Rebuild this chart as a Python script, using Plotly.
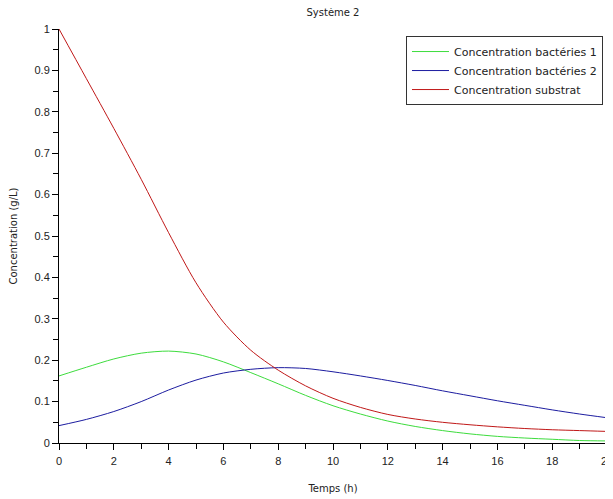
import plotly.graph_objects as go

temps = list(range(0, 21))
bacteries1 = [0.162, 0.183, 0.203, 0.217, 0.222, 0.215, 0.196, 0.170, 0.143, 0.115,
              0.090, 0.070, 0.053, 0.040, 0.030, 0.022, 0.016, 0.012, 0.009, 0.006, 0.005]
bacteries2 = [0.042, 0.057, 0.076, 0.100, 0.128, 0.152, 0.169, 0.178, 0.182, 0.180,
              0.172, 0.162, 0.151, 0.139, 0.126, 0.114, 0.102, 0.091, 0.080, 0.070, 0.061]
substrat = [1.000, 0.880, 0.760, 0.637, 0.508, 0.387, 0.292, 0.224, 0.176, 0.138,
            0.108, 0.086, 0.069, 0.058, 0.050, 0.044, 0.039, 0.035, 0.032, 0.030, 0.028]

names = ["Concentration bactéries 1", "Concentration bactéries 2", "Concentration substrat"]
colors = ["#3ddc3d", "#1c1ca0", "#c01818"]

fig = go.Figure()
for ys, nm, c in zip([bacteries1, bacteries2, substrat], names, colors):
    fig.add_trace(go.Scatter(x=temps, y=ys, mode="lines", name=nm,
                             line=dict(color=c, width=1, shape="spline", smoothing=0.8)))

# The page body has an 8px margin, so the figure is sized/offset to compensate.
W, H = 605, 491
font = "Liberation Sans, Arial, sans-serif"
fig.update_layout(
    width=W, height=H,
    margin=dict(l=51, r=6, t=21, b=56),
    paper_bgcolor="white", plot_bgcolor="white",
    font=dict(family=font, size=11, color="#222"),
    title=dict(text="Système 2", x=(51 + 548 / 2) / W, xanchor="center",
               y=1 - 4 / H, yanchor="middle", automargin=False,
               font=dict(family="DejaVu Sans, sans-serif", size=10, color="#222")),
    showlegend=True,
    legend=dict(x=0.9927, xanchor="right", y=0.983, yanchor="top",
                bgcolor="white", bordercolor="#333", borderwidth=1,
                font=dict(family="DejaVu Sans, sans-serif", size=11, color="#222"),
                itemwidth=37),
    xaxis=dict(range=[0, 20], dtick=2, tick0=0, showgrid=False, zeroline=False,
               showline=True, linecolor="black", linewidth=1, automargin=False,
               ticks="outside", ticklen=6, tickcolor="black", ticklabeloverflow="allow",
               tickfont=dict(size=11), ticklabelstandoff=2,
               minor=dict(dtick=1, ticks="outside", ticklen=5, tickcolor="black", showgrid=False),
               title=dict(text="Temps (h)", standoff=18,
                          font=dict(family="DejaVu Sans, sans-serif", size=10))),
    yaxis=dict(range=[0, 1], dtick=0.1, tick0=0, showgrid=False, zeroline=False,
               showline=True, linecolor="black", linewidth=1, automargin=False,
               ticks="outside", ticklen=6, tickcolor="black", ticklabeloverflow="allow",
               minor=dict(dtick=0.05, ticks="outside", ticklen=5, tickcolor="black", showgrid=False),
               tickformat="~g", tickfont=dict(size=11),
               title=dict(text="Concentration (g/L)", standoff=16,
                          font=dict(family="DejaVu Sans, sans-serif", size=10))),
)

fig.write_html("out.html")
